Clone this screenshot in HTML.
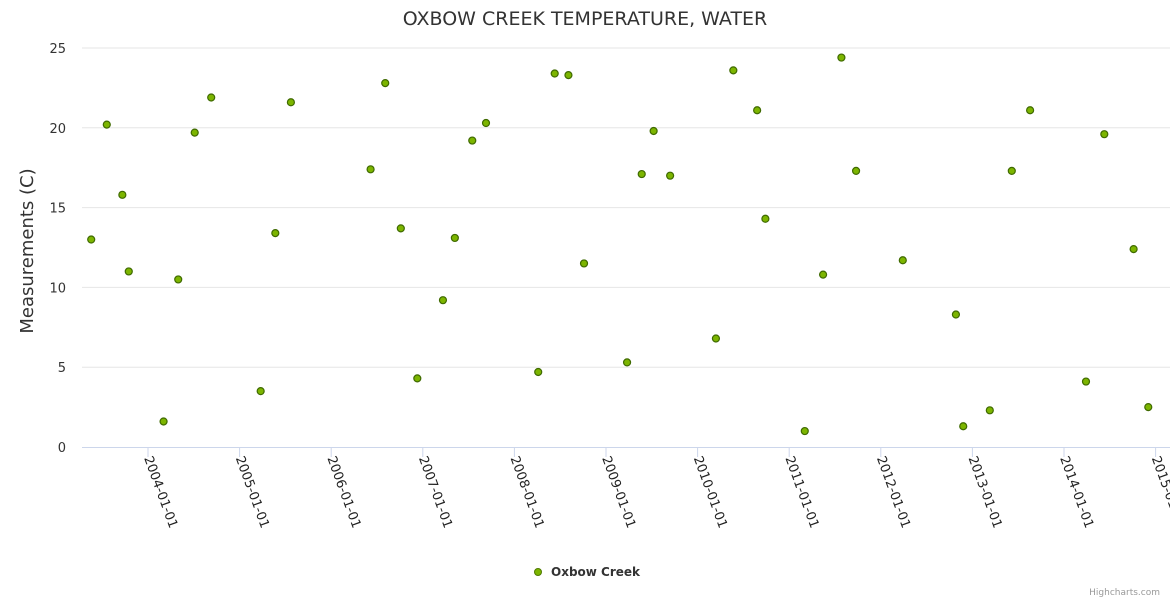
<!DOCTYPE html>
<html><head><meta charset="utf-8"><style>
html,body{margin:0;padding:0;background:#fff;}
svg{display:block;font-family:"DejaVu Sans","Liberation Sans",sans-serif;}
</style></head><body>
<svg id="chart" width="1170" height="600" xmlns="http://www.w3.org/2000/svg">
<text x="585" y="25" text-anchor="middle" font-size="19" fill="#333">OXBOW CREEK TEMPERATURE, WATER</text>
<text transform="translate(33,251) rotate(-90)" text-anchor="middle" font-size="18" fill="#333">Measurements (C)</text>
<g id="grid"></g><g id="xaxis"></g><g id="points"></g>
<g>
<circle cx="538" cy="572" r="3.5" fill="#7cb500" stroke="#4f7a00" stroke-width="1"/>
<text x="551" y="576" font-size="12" font-weight="bold" fill="#333">Oxbow Creek</text>
</g>
<text x="1160" y="595" text-anchor="end" font-size="9" fill="#999">Highcharts.com</text>
</svg>
<script>
const yTicks=[0,5,10,15,20,25];
const xTickYears=[2004,2005,2006,2007,2008,2009,2010,2011,2012,2013,2014,2015];
const dates=[2003.38,2003.55,2003.72,2003.79,2004.17,2004.33,2004.51,2004.69,2005.23,2005.39,2005.56,2006.43,2006.59,2006.76,2006.94,2007.22,2007.35,2007.54,2007.69,2008.26,2008.44,2008.59,2008.76,2009.23,2009.39,2009.52,2009.70,2010.20,2010.39,2010.65,2010.74,2011.17,2011.37,2011.57,2011.73,2012.24,2012.82,2012.90,2013.19,2013.43,2013.63,2014.24,2014.44,2014.76,2014.92];
const temps=[13.0,20.2,15.8,11.0,1.6,10.5,19.7,21.9,3.5,13.4,21.6,17.4,22.8,13.7,4.3,9.2,13.1,19.2,20.3,4.7,23.4,23.3,11.5,5.3,17.1,19.8,17.0,6.8,23.6,21.1,14.3,1.0,10.8,24.4,17.3,11.7,8.3,1.3,2.3,17.3,21.1,4.1,19.6,12.4,2.5];
const NS="http://www.w3.org/2000/svg";
const x=v=>148+(v-2004)*91.6;
const y=v=>447-v*15.96;
function mk(t,a,p){const e=document.createElementNS(NS,t);for(const k in a)e.setAttribute(k,a[k]);p.appendChild(e);return e;}
const grid=document.getElementById('grid');
yTicks.forEach(t=>{
  if(t>0){const l=mk('line',{x1:82,x2:1170,y1:y(t),y2:y(t),stroke:'#e6e6e6'},grid);
  
  }
  const tx=mk('text',{x:66,y:y(t)+5,'text-anchor':'end','font-size':13,fill:'#333'},grid);
  tx.textContent=t;
  
  
});
const xa=document.getElementById('xaxis');
const al=mk('line',{x1:82,x2:1170,y1:447.5,y2:447.5,stroke:'#ccd6eb'},xa);


xTickYears.forEach(yr=>{
  const px=x(yr);
  const tk=mk('line',{x1:px,x2:px,y1:447,y2:457,stroke:'#ccd6eb'},xa);
  
  
  const tx=mk('text',{transform:`translate(${px-4},${458}) rotate(70)`,'font-size':13,fill:'#222'},xa);
  tx.textContent=yr+'-01-01';
  
  
});
const pts=document.getElementById('points');
dates.forEach((d,i)=>{
  const c=mk('circle',{cx:x(d),cy:y(temps[i]),r:3.5,fill:'#7cb500',stroke:'#3f6a00','stroke-width':1.2},pts);
  
  
});
</script>
</body></html>
